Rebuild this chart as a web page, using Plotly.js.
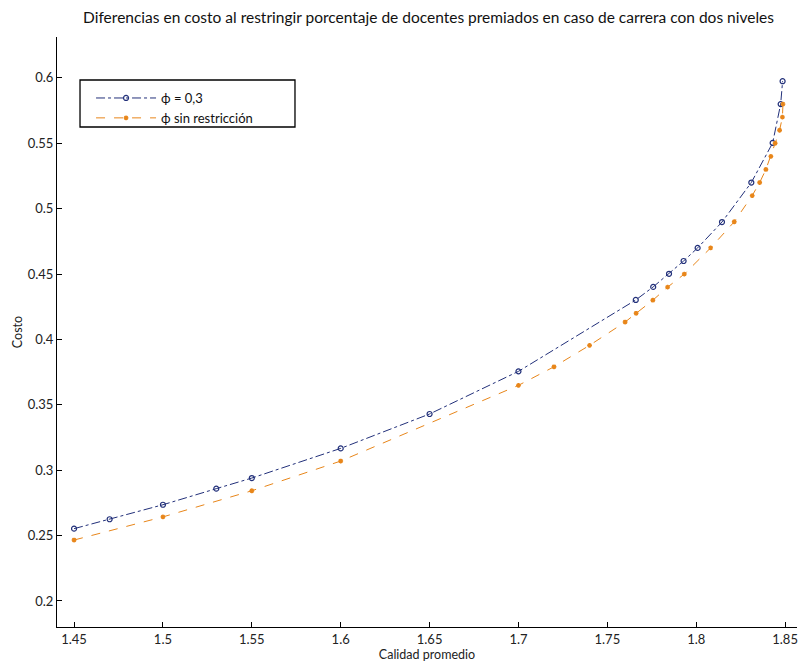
<!DOCTYPE html>
<html>
<head>
<meta charset="utf-8">
<script src="https://cdn.plot.ly/plotly-3.0.1.min.js"></script>
<style>html,body{margin:0;padding:0;background:#fff;}#chart{width:798px;height:662px;}</style>
</head>
<body>
<div id="chart"></div>
<script>
const titleText = "Diferencias en costo al restringir porcentaje de docentes premiados en caso de carrera con dos niveles";
const xLabel = "Calidad promedio";
const yLabel = "Costo";
const seriesNames = ["ϕ = 0,3", "ϕ sin restricción"];

const blueX = [1.45, 1.47, 1.5, 1.53, 1.55, 1.6, 1.65, 1.7, 1.766, 1.7758, 1.7847, 1.7929, 1.8008, 1.8145, 1.831, 1.843, 1.8475, 1.8486];
const blueY = [0.2553, 0.2625, 0.2736, 0.2859, 0.294, 0.3167, 0.343, 0.3756, 0.4302, 0.4402, 0.4502, 0.46, 0.47, 0.4898, 0.52, 0.5503, 0.58, 0.5975];

const orangeX = [1.45, 1.5, 1.55, 1.6, 1.7, 1.72, 1.74, 1.76, 1.7662, 1.7756, 1.7839, 1.7933, 1.8081, 1.8214, 1.8315, 1.8357, 1.8392, 1.842, 1.8444, 1.8469, 1.8485, 1.8488];
const orangeY = [0.2466, 0.2643, 0.2843, 0.307, 0.3649, 0.3791, 0.3955, 0.4133, 0.42, 0.43, 0.44, 0.45, 0.47, 0.49, 0.51, 0.52, 0.53, 0.54, 0.55, 0.56, 0.57, 0.58];

const xTicks = [1.45, 1.5, 1.55, 1.6, 1.65, 1.7, 1.75, 1.8, 1.85];
const xTickText = ["1.45", "1.5", "1.55", "1.6", "1.65", "1.7", "1.75", "1.8", "1.85"];
const yTicks = [0.2, 0.25, 0.3, 0.35, 0.4, 0.45, 0.5, 0.55, 0.6];
const yTickText = ["0.2", "0.25", "0.3", "0.35", "0.4", "0.45", "0.5", "0.55", "0.6"];

const blue = "rgb(34,48,122)";
const orange = "rgb(232,134,26)";
const font = "Lato, 'Open Sans', sans-serif";

const traces = [
  {x: blueX, y: blueY, name: seriesNames[0], type: "scatter", mode: "lines+markers",
   line: {color: blue, width: 1, dash: "dashdot"},
   marker: {symbol: "circle-open", size: 5, color: blue, line: {width: 1.2, color: blue}}},
  {x: orangeX, y: orangeY, name: seriesNames[1], type: "scatter", mode: "lines+markers",
   line: {color: orange, width: 1, dash: "dash"},
   marker: {symbol: "asterisk-open", size: 4, color: orange, line: {width: 1.4, color: orange}}}
];

const layout = {
  width: 798, height: 662,
  margin: {l: 57, r: 1, t: 37, b: 35},
  paper_bgcolor: "#fff", plot_bgcolor: "#fff",
  font: {family: font, size: 13, color: "#222"},
  title: {text: titleText, font: {family: font, size: 15.5, color: "#111"}, x: 0.537, xanchor: "center", y: 0.973, yanchor: "middle"},
  xaxis: {
    range: [1.4404, 1.8567], showgrid: false, zeroline: false,
    showline: true, linecolor: "#000", linewidth: 1,
    ticks: "inside", ticklen: 5, tickcolor: "#000",
    tickvals: xTicks, ticktext: xTickText, tickfont: {family: font, size: 13, color: "#222"},
    title: {text: xLabel, font: {family: font, size: 12.5, color: "#222"}},
    automargin: false
  },
  yaxis: {
    range: [0.1801, 0.6313], showgrid: false, zeroline: false,
    showline: true, linecolor: "#000", linewidth: 1,
    ticks: "inside", ticklen: 5, tickcolor: "#000",
    tickvals: yTicks, ticktext: yTickText, tickfont: {family: font, size: 13, color: "#222"},
    title: {text: yLabel, font: {family: font, size: 12.5, color: "#222"}},
    automargin: false
  },
  showlegend: true,
  legend: {x: 0.046, y: 0.922, xanchor: "left", yanchor: "top", bgcolor: "rgba(0,0,0,0)",
    borderwidth: 0, font: {family: font, size: 13, color: "#111"}, itemwidth: 60, tracegroupgap: 0},
  shapes: [
    {type: "rect", xref: "paper", yref: "paper", x0: 0.0311, x1: 0.3216, y0: 0.8475, y1: 0.9271,
     line: {color: "#000", width: 1.3}, fillcolor: "rgba(0,0,0,0)", layer: "below"}
  ]
};

Plotly.newPlot("chart", traces, layout, {displayModeBar: false, staticPlot: true});
</script>
</body>
</html>
